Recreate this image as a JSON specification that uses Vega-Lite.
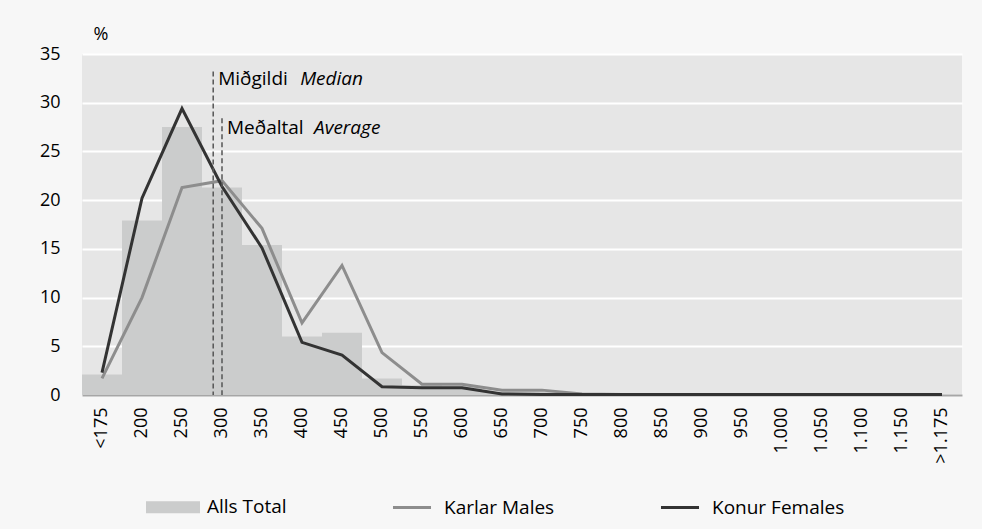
{
  "$schema": "https://vega.github.io/schema/vega-lite/v6.json",
  "autosize": {"type": "none"},
  "width": 880,
  "height": 341,
  "padding": {"left": 82, "top": 54, "right": 20, "bottom": 134},
  "background": "#f7f7f7",
  "config": {
    "font": "Open Sans",
    "view": {"fill": "#e6e6e6", "stroke": null},
    "axis": {"labelFont": "Open Sans", "labelFontSize": 18, "labelColor": "#000000", "ticks": false},
    "legend": {"labelFont": "Open Sans", "labelFontSize": 19, "labelColor": "#000000"}
  },
  "datasets": {
    "dist": [
      {"cat": "<175", "Alls Total": 2.1, "Karlar Males": 1.7, "Konur Females": 2.3},
      {"cat": "200", "Alls Total": 17.9, "Karlar Males": 10.0, "Konur Females": 20.2},
      {"cat": "250", "Alls Total": 27.5, "Karlar Males": 21.3, "Konur Females": 29.4},
      {"cat": "300", "Alls Total": 21.3, "Karlar Males": 22.0, "Konur Females": 21.4},
      {"cat": "350", "Alls Total": 15.4, "Karlar Males": 17.1, "Konur Females": 15.1},
      {"cat": "400", "Alls Total": 6.0, "Karlar Males": 7.4, "Konur Females": 5.4},
      {"cat": "450", "Alls Total": 6.4, "Karlar Males": 13.3, "Konur Females": 4.1},
      {"cat": "500", "Alls Total": 1.7, "Karlar Males": 4.35, "Konur Females": 0.85},
      {"cat": "550", "Alls Total": 1.0, "Karlar Males": 1.1, "Konur Females": 0.75},
      {"cat": "600", "Alls Total": 0.9, "Karlar Males": 1.1, "Konur Females": 0.75},
      {"cat": "650", "Alls Total": 0.3, "Karlar Males": 0.5, "Konur Females": 0.1},
      {"cat": "700", "Alls Total": 0.3, "Karlar Males": 0.5, "Konur Females": 0.05},
      {"cat": "750", "Alls Total": 0.05, "Karlar Males": 0.1, "Konur Females": 0.05},
      {"cat": "800", "Alls Total": 0, "Karlar Males": 0.05, "Konur Females": 0.05},
      {"cat": "850", "Alls Total": 0, "Karlar Males": 0.05, "Konur Females": 0.05},
      {"cat": "900", "Alls Total": 0, "Karlar Males": 0.05, "Konur Females": 0.05},
      {"cat": "950", "Alls Total": 0, "Karlar Males": 0.05, "Konur Females": 0.05},
      {"cat": "1.000", "Alls Total": 0, "Karlar Males": 0.05, "Konur Females": 0.05},
      {"cat": "1.050", "Alls Total": 0, "Karlar Males": 0.05, "Konur Females": 0.05},
      {"cat": "1.100", "Alls Total": 0, "Karlar Males": 0.05, "Konur Females": 0.05},
      {"cat": "1.150", "Alls Total": 0, "Karlar Males": 0.05, "Konur Females": 0.05},
      {"cat": ">1.175", "Alls Total": 0, "Karlar Males": 0.05, "Konur Females": 0.05}
    ],
    "stats": [
      {"stat": "Median", "is": "Miðgildi", "en": "Median", "value": 289, "top": 33.2, "labelY": 32.4},
      {"stat": "Average", "is": "Meðaltal", "en": "Average", "value": 300, "top": 28.4, "labelY": 27.4}
    ]
  },
  "layer": [
    {
      "data": {"name": "dist"},
      "layer": [
        {
          "mark": {"type": "bar", "color": "#cbcccc"},
          "encoding": {
            "x": {
              "field": "cat", "type": "nominal", "sort": null,
              "scale": {"paddingInner": 0, "paddingOuter": 0},
              "axis": {"title": null, "labelAngle": -90, "labelPadding": 12, "domainColor": "#a6a6a6", "domainWidth": 2, "grid": false}
            },
            "y": {
              "field": "Alls Total", "type": "quantitative",
              "scale": {"domain": [0, 35], "nice": false},
              "axis": {"title": "%", "titleAngle": 0, "titleFontSize": 18, "titleFontWeight": "normal", "titleFont": "Open Sans", "titleX": 11, "titleY": -11, "titleAlign": "left", "values": [0, 5, 10, 15, 20, 25, 30, 35], "domain": false, "grid": true, "gridColor": "#ffffff", "gridWidth": 2, "labelPadding": 22}
            }
          }
        },
        {
          "transform": [{"fold": ["Karlar Males", "Konur Females"], "as": ["series", "pct"]}],
          "mark": {"type": "line", "strokeWidth": 3, "strokeJoin": "miter"},
          "encoding": {
            "x": {"field": "cat", "type": "nominal", "sort": null},
            "y": {"field": "pct", "type": "quantitative"},
            "color": {
              "field": "series", "type": "nominal",
              "scale": {"domain": ["Alls Total", "Karlar Males", "Konur Females"], "range": ["#cbcccc", "#8d8d8d", "#333333"]},
              "legend": {
                "title": null, "orient": "none", "direction": "horizontal",
                "legendX": 64, "legendY": 426,
                "symbolSize": 2601, "symbolStrokeWidth": 3,
                "labelOffset": 7, "columnPadding": 96,
                "encode": {
                  "symbols": {
                    "update": {
                      "shape": {"signal": "datum.value === 'Alls Total' ? 'M-1,-0.176H1V0.176H-1Z' : 'M-0.667,0H0.824'"},
                      "fill": {"signal": "datum.value === 'Alls Total' ? '#cbcccc' : 'transparent'"},
                      "stroke": {"signal": "datum.value === 'Alls Total' ? 'transparent' : (datum.value === 'Karlar Males' ? '#8d8d8d' : '#333333')"},
                      "strokeWidth": {"value": 3}
                    }
                  }
                }
              }
            }
          }
        }
      ]
    },
    {
      "data": {"name": "stats"},
      "layer": [
        {
          "mark": {"type": "rule", "color": "#555555", "strokeWidth": 1.5, "strokeDash": [5, 3]},
          "encoding": {
            "x": {"field": "value", "type": "quantitative", "scale": {"domain": [125, 1225], "nice": false, "zero": false}, "axis": null},
            "y": {"field": "top", "type": "quantitative"},
            "y2": {"datum": 0}
          }
        },
        {
          "mark": {"type": "text", "align": "left", "baseline": "middle", "dx": 5, "fontSize": 19, "font": "Open Sans", "color": "#000000"},
          "encoding": {
            "x": {"field": "value", "type": "quantitative"},
            "y": {"field": "labelY", "type": "quantitative"},
            "text": {"field": "is"}
          }
        },
        {
          "transform": [{"filter": "datum.stat === 'Median'"}],
          "mark": {"type": "text", "align": "left", "baseline": "middle", "dx": 87, "fontSize": 19, "font": "Open Sans", "fontStyle": "italic", "color": "#000000"},
          "encoding": {
            "x": {"field": "value", "type": "quantitative"},
            "y": {"field": "labelY", "type": "quantitative"},
            "text": {"field": "en"}
          }
        },
        {
          "transform": [{"filter": "datum.stat === 'Average'"}],
          "mark": {"type": "text", "align": "left", "baseline": "middle", "dx": 92, "fontSize": 19, "font": "Open Sans", "fontStyle": "italic", "color": "#000000"},
          "encoding": {
            "x": {"field": "value", "type": "quantitative"},
            "y": {"field": "labelY", "type": "quantitative"},
            "text": {"field": "en"}
          }
        }
      ]
    }
  ],
  "resolve": {"scale": {"x": "independent"}, "axis": {"x": "independent"}}
}
